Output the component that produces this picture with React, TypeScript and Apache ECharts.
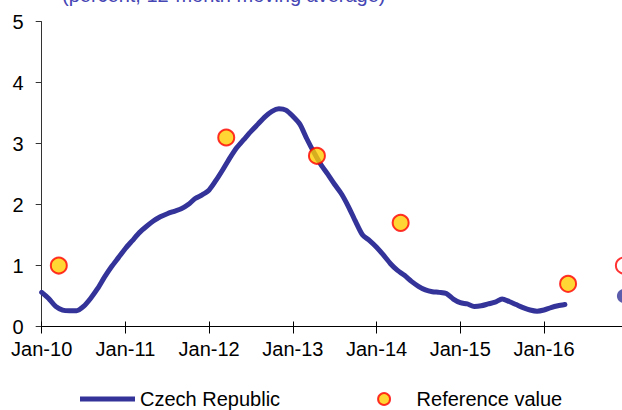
import React, { useEffect, useRef } from "react";
import * as echarts from "echarts";

// Monthly 12-month moving average, Czech Republic, Jan-10 ... Apr-16
const lineStart = "2010-01";
const czechValues = [
  0.56, 0.46, 0.33, 0.27, 0.26, 0.26, 0.33, 0.46, 0.62, 0.81, 0.98, 1.13,
  1.28, 1.41, 1.54, 1.64, 1.73, 1.80, 1.85, 1.89, 1.93, 2.00, 2.10, 2.16,
  2.24, 2.40, 2.58, 2.77, 2.94, 3.07, 3.20, 3.32, 3.44, 3.53, 3.57, 3.55,
  3.45, 3.32, 3.08, 2.86, 2.66, 2.50, 2.33, 2.17, 1.96, 1.72, 1.50, 1.41,
  1.30, 1.17, 1.03, 0.92, 0.84, 0.74, 0.66, 0.60, 0.57, 0.56, 0.54, 0.45,
  0.39, 0.37, 0.33, 0.34, 0.37, 0.40, 0.45, 0.41, 0.36, 0.31, 0.27, 0.25,
  0.27, 0.31, 0.34, 0.36,
];

// Reference values
const refDates = ["2010-03-15", "2012-03-15", "2013-04-15", "2014-04-15", "2016-04-15"];
const refValues = [1.0, 3.1, 2.8, 1.7, 0.7];

// Projection (end of 2016)
const projDate = "2016-12-15";
const projRefValue = 1.0;
const projCzechValue = 0.5;

const xTickLabels = ["Jan-10", "Jan-11", "Jan-12", "Jan-13", "Jan-14", "Jan-15", "Jan-16"];
const yTicks = [0, 1, 2, 3, 4, 5];

const titleText = "(percent, 12-month moving average)";

function monthIndex(d: string): number {
  const [y, m, day] = d.split("-").map(Number);
  return (y - 2010) * 12 + (m - 1) + ((day || 1) - 1) / 31;
}

const FONT = "'Liberation Sans', Arial, sans-serif";
const NAVY = "#333399";

export default function App() {
  const ref = useRef<HTMLDivElement>(null);
  useEffect(() => {
    if (!ref.current) return;
    const chart = echarts.init(ref.current, undefined, { renderer: "svg" });
    const start = monthIndex(lineStart + "-01");
    const lineData = czechValues.map((v, i) => [start + i, v]);
    const refData: any[] = refDates.map((d, i) => [monthIndex(d), refValues[i]]);
    refData.push({
      value: [monthIndex(projDate), projRefValue],
      itemStyle: { color: "#ffffff", borderColor: "#ff0000", borderWidth: 2 },
    });
    const perMonth = (544 - 41.7) / 72;
    const xMax = 90;
    const left = 41.7;
    const width = 700;
    chart.setOption({
      animation: false,
      textStyle: { fontFamily: FONT },
      grid: {
        left: left,
        right: width - left - xMax * perMonth,
        top: 21.7,
        bottom: 410 - 326.5,
        containLabel: false,
      },
      xAxis: [
        {
          type: "value",
          min: 0,
          max: xMax,
          interval: 12,
          position: "bottom",
          axisLine: { show: true, onZero: false, lineStyle: { color: "#000", width: 1 } },
          axisTick: { show: true, inside: false, length: 7, lineStyle: { color: "#000" } },
          axisLabel: {
            show: true,
            fontSize: 20,
            color: "#000",
            fontFamily: FONT,
            margin: 12,
            showMaxLabel: false,
            formatter: (v: number) => {
              const k = Math.round(v / 12);
              return k < xTickLabels.length ? xTickLabels[k] : "";
            },
          },
          splitLine: { show: false },
        },
        {
          type: "value",
          min: 0,
          max: xMax,
          interval: 12,
          position: "bottom",
          axisLine: { show: false, onZero: false },
          axisTick: { show: true, inside: true, length: 5, lineStyle: { color: "#000" } },
          axisLabel: { show: false },
          splitLine: { show: false },
        },
      ],
      yAxis: {
        type: "value",
        min: yTicks[0],
        max: yTicks[yTicks.length - 1],
        interval: 1,
        axisLine: { show: true, lineStyle: { color: "#333", width: 1 } },
        axisTick: { show: true, inside: false, length: 6, lineStyle: { color: "#333" } },
        axisLabel: { fontSize: 20, color: "#000", fontFamily: FONT, margin: 18 },
        splitLine: { show: false },
      },
      legend: {
        data: [
          {
            name: "Czech Republic",
            icon: "path://M0,0 M0,12 M0,3.5 L55,3.5 L55,8.5 L0,8.5 Z",
          },
          { name: "Reference value", icon: "circle" },
        ],
        left: 80,
        top: 389,
        padding: 0,
        itemWidth: 55,
        itemHeight: 12,
        itemGap: 97,
        textStyle: { fontSize: 20, color: "#000", fontFamily: FONT },
      },
      graphic: [
        {
          type: "text",
          x: 62,
          y: -5,
          style: {
            text: titleText,
            fill: "#4646b4",
            fontSize: 20,
            fontFamily: FONT,
            verticalAlign: "middle",
            align: "left",
          },
        },
      ],
      series: [
        {
          name: "Czech Republic",
          type: "line",
          data: lineData,
          symbol: "none",
          smooth: 0.25,
          lineStyle: { color: NAVY, width: 5, cap: "round", join: "round" },
          itemStyle: { color: NAVY },
          z: 2,
        },
        {
          name: "Czech projection",
          type: "scatter",
          data: [[monthIndex(projDate), projCzechValue]],
          symbolSize: 14,
          itemStyle: { color: NAVY },
          z: 3,
        },
        {
          name: "Reference value",
          type: "scatter",
          data: refData,
          symbolSize: 16,
          itemStyle: { color: "#ffcc00", borderColor: "#ff0000", borderWidth: 2 },
          z: 4,
        },
      ],
    });
    return () => chart.dispose();
  }, []);
  return (
    <div
      style={{
        position: "absolute",
        left: 0,
        top: 0,
        width: 622,
        height: 410,
        overflow: "hidden",
        background: "#fff",
      }}
    >
      <div ref={ref} style={{ width: 700, height: 410 }} />
    </div>
  );
}
